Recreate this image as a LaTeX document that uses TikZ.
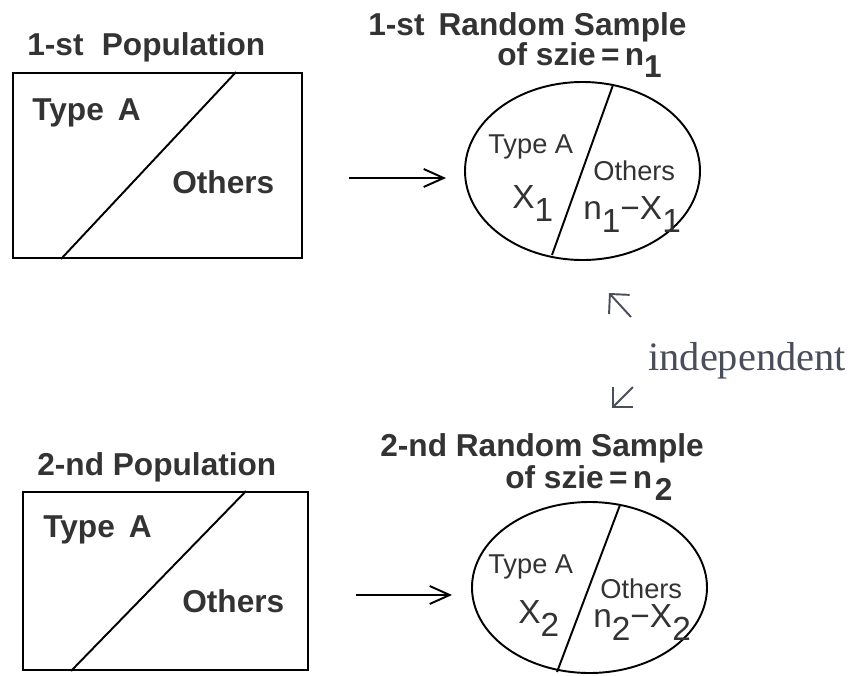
\documentclass[tikz,border=0pt]{standalone}
\usepackage{fontspec}
\setmainfont{Liberation Serif}
\setsansfont{Liberation Sans}
\usetikzlibrary{positioning,arrows.meta,shapes.geometric}
\definecolor{inkGray}{HTML}{333333}
\definecolor{indepGray}{HTML}{4A4E5A}
\newcommand{\dnidx}[1]{\raisebox{-.4em}{#1}}

\begin{document}
\begin{tikzpicture}[
  popbox/.style={draw,line width=1.1pt,inner sep=0pt},
  sampell/.style={draw,ellipse,line width=1.1pt,minimum width=4.7cm,inner sep=0pt},
  poptitle/.style={anchor=base west,inner sep=0pt,font=\sffamily\bfseries\fontsize{18}{20}\selectfont,text=inkGray},
  boxlab/.style={anchor=base west,inner sep=0pt,font=\sffamily\bfseries\fontsize{18}{20}\selectfont,text=inkGray},
  inlab/.style={anchor=base west,inner sep=0pt,font=\sffamily\fontsize{15.5}{17}\selectfont,text=inkGray},
  var/.style={anchor=base west,inner sep=0pt,font=\sffamily\fontsize{19}{21}\selectfont,text=inkGray},
  conn/.style={-{Straight Barb[length=.4cm,width=.36cm]},line width=1.1pt},
  tick/.style={-{Straight Barb[length=.28cm,width=.56cm]},line width=1.1pt,indepGray}
]
  \useasboundingbox (0,0) rectangle (17.02,-13.5);

  \node[popbox,minimum width=5.78cm,minimum height=3.7cm] (pop1) at (3.15,-3.31) {};
  \draw[line width=1.1pt] ([xshift=.98cm]pop1.south west) -- ([xshift=4.48cm]pop1.north west);
  \node[poptitle] (pop1t) at (.54,-1.1) {1-st\hspace{.3em} Population};
  \node[boxlab] (pop1a) at (.64,-2.4) {Type\, A};
  \node[boxlab] (pop1o) at (3.44,-3.86) {Others};

  \node[sampell,minimum height=3.56cm] (samp1) at (11.65,-3.42) {};
  \draw[line width=1.1pt] ([shift={(.61,1.72)}]samp1.center) -- ([shift={(-.61,-1.68)}]samp1.center);
  \node[poptitle] (samp1t) at (7.36,-.7) {1-st\, Random Sample};
  \node[poptitle] (samp1n) at (9.94,-1.3) {of szie\,=\,n\dnidx{1}};
  \node[inlab] (samp1a) at (9.76,-3.06) {Type A};
  \node[var] (samp1x) at (10.24,-4.16) {X\dnidx{1}};
  \node[inlab] (samp1o) at (11.86,-3.6) {Others};
  \node[var] (samp1r) at (11.66,-4.38) {n\dnidx{1}−X\dnidx{1}};

  \draw[conn,shorten <=.92cm,shorten >=.36cm] ([yshift=-.25cm]pop1.east) -- ([yshift=-.25cm]pop1.east -| samp1.west);

  \node[anchor=base west,inner sep=0pt,font=\fontsize{23}{25}\selectfont,text=indepGray] (indep) at (12.96,-7.4) {independent};
  \coordinate (up1) at (12.62,-6.34);
  \coordinate (up2) at (12.18,-5.86);
  \coordinate (dn1) at (12.66,-7.74);
  \coordinate (dn2) at (12.24,-8.16);
  \draw[tick] (up1) -- (up2);
  \draw[tick] (dn1) -- (dn2);

  \node[popbox,minimum width=5.7cm,minimum height=3.56cm] (pop2) at (3.31,-11.62) {};
  \draw[line width=1.1pt] ([xshift=.98cm]pop2.south west) -- ([xshift=4.48cm]pop2.north west);
  \node[poptitle] (pop2t) at (.74,-9.5) {2-nd Population};
  \node[boxlab] (pop2a) at (.86,-10.74) {Type\, A};
  \node[boxlab] (pop2o) at (3.64,-12.24) {Others};

  \node[sampell,minimum height=3.42cm] (samp2) at (11.79,-11.75) {};
  \draw[line width=1.1pt] ([shift={(.61,1.65)}]samp2.center) -- ([shift={(-.65,-1.69)}]samp2.center);
  \node[poptitle,text depth=0pt] (samp2t) at (7.6,-9.12) {2-nd Random Sample};
  \node[poptitle] (samp2n) at (10.1,-9.76) {of szie\,=\,n\kern1.5pt\dnidx{2}};
  \node[inlab] (samp2a) at (9.76,-11.46) {Type A};
  \node[var] (samp2x) at (10.36,-12.46) {X\dnidx{2}};
  \node[inlab] (samp2o) at (12,-11.96) {Others};
  \node[var] (samp2r) at (11.86,-12.54) {n\dnidx{2}−X\dnidx{2}};

  \draw[conn,shorten <=.94cm,shorten >=.38cm] ([yshift=-.28cm]pop2.east) -- ([yshift=-.28cm]pop2.east -| samp2.west);
\end{tikzpicture}
\end{document}
